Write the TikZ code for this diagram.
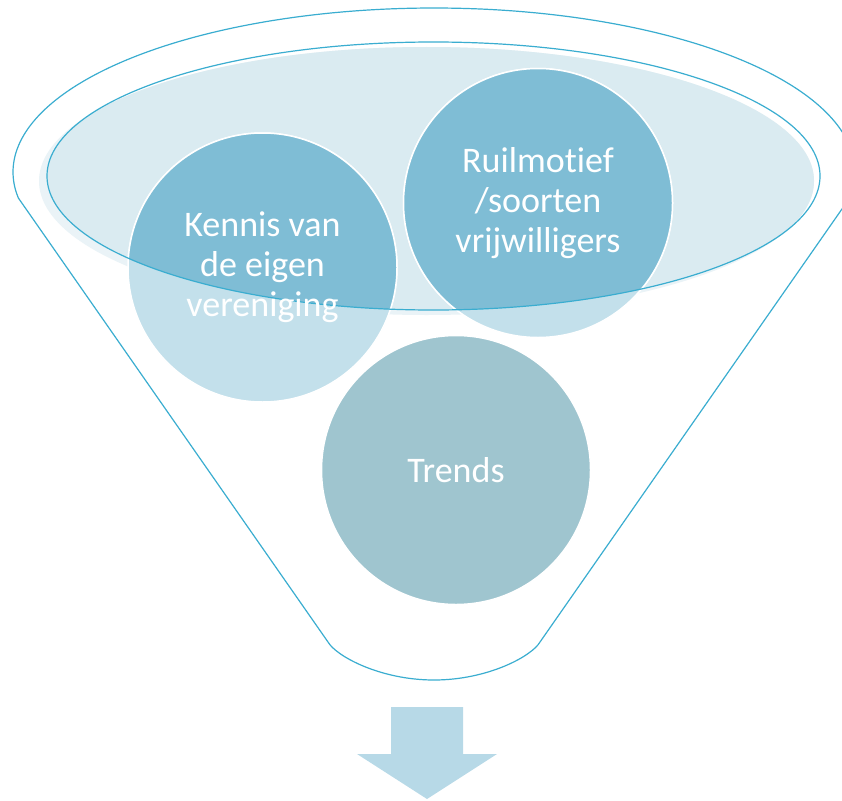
\documentclass[tikz,border=0pt]{standalone}
\usepackage{fontspec}
\setmainfont[Ligatures=NoCommon]{Carlito}
\definecolor{rim}{HTML}{3AADD0}
\definecolor{darkc}{HTML}{7FBDD5}
\definecolor{lightc}{HTML}{C3E0EB}
\definecolor{trendc}{HTML}{9FC5CF}
\definecolor{ellfill}{HTML}{DAEBF1}
\definecolor{halo}{HTML}{EAF3F7}
\definecolor{arrowc}{HTML}{B7D9E7}
\begin{document}
\begin{tikzpicture}[x=1pt,y=-1pt,
  rimline/.style={draw=rim, line width=1.2pt},
  bubble/.style={circle, inner sep=0pt, minimum size=269pt, draw=white, line width=1.5pt},
  lbl/.style={text=white, align=center, font=\fontsize{36}{40}\selectfont, inner sep=0pt}]
\useasboundingbox (0,0) rectangle (842,800);
\clip (0,0) rectangle (842,800);
% funnel body
\draw[rimline, fill=white] plot[domain=-9.1:189.1, samples=120, smooth] ({434+421*cos(\x)}, {172-164*sin(\x)})
  -- (328,642) .. controls (336,656) and (380,680) .. (434,680)
  .. controls (488,680) and (532,656) .. (540,642) -- cycle;
% inner rim fill
\fill[halo] (426.5,181) ellipse [x radius=387.5, y radius=134];
\begin{scope}
  \clip (426.5,181) ellipse [x radius=387.5, y radius=134];
  \fill[ellfill] (433.5,176) ellipse [x radius=386.5, y radius=134];
\end{scope}
% bubbles
\node[bubble, fill=lightc] (L) at (262.5,267.5) {};
\node[bubble, fill=lightc] (R) at (538,203) {};
\node[bubble, fill=trendc] (T) at (456,470) {};
\begin{scope}
  \clip (433.5,176) ellipse [x radius=386.5, y radius=134];
  \filldraw[fill=darkc, draw=white, line width=1.5pt] (L.center) circle (134.5pt);
  \filldraw[fill=darkc, draw=white, line width=1.5pt] (R.center) circle (134.5pt);
\end{scope}
\draw[rimline] (433.5,176) ellipse [x radius=386.5, y radius=134];
% labels
\node[lbl] (Lt) at (L.center) {Kennis van\\de eigen\\vereniging};
\node[lbl] (Rt) at (R.center) {Ruilmot\kern0pt ief\\/soorten\\vrijwilligers};
\node[lbl] (Tt) at (T.center) {Trends};
% down arrow
\fill[arrowc] (391,707) -- (463,707) -- (463,754) -- (497,754) -- (427,799) -- (357,754) -- (391,754) -- cycle;
\end{tikzpicture}
\end{document}
